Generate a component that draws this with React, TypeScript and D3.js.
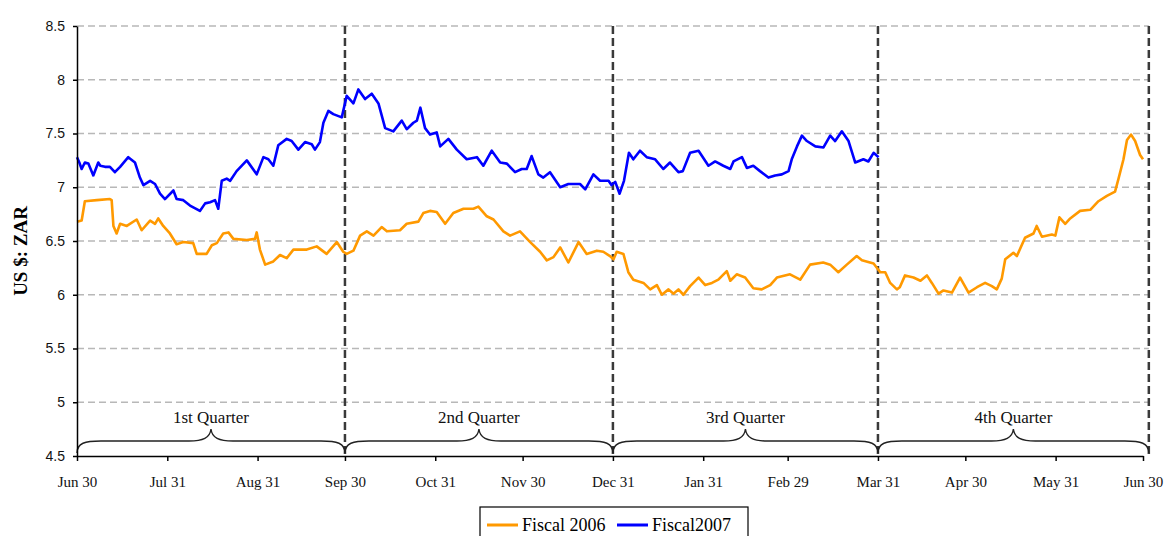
import React, { useEffect, useRef } from 'react';
import * as d3 from 'd3';

// days counted from Jun 30 (leap-year fiscal, so Feb 29 shows up)
const monthTickDays = [0, 31, 62, 92, 123, 153, 184, 215, 244, 275, 305, 336, 366];
const monthTickLabels = ['Jun 30', 'Jul 31', 'Aug 31', 'Sep 30', 'Oct 31', 'Nov 30', 'Dec 31', 'Jan 31', 'Feb 29', 'Mar 31', 'Apr 30', 'May 31', 'Jun 30'];
const yTicks = [4.5, 5, 5.5, 6, 6.5, 7, 7.5, 8, 8.5];
const quarterBounds = [0, 92, 184, 275, 368];
const quarterLabels = ['1st Quarter', '2nd Quarter', '3rd Quarter', '4th Quarter'];
const seriesNames = ['Fiscal 2006', 'Fiscal2007'];
const seriesColors = ['#ff9900', '#0000ff'];

// [day, US$:ZAR]
const fiscal2006: [number, number][] = [
  [0, 6.68], [1.6, 6.69], [2.7, 6.87], [6.8, 6.88], [11.3, 6.89], [11.9, 6.88], [12.5, 6.64], [13.6, 6.57],
  [14.8, 6.66], [17.1, 6.64], [20.5, 6.7], [22.2, 6.6], [25.1, 6.69], [26.8, 6.66], [27.9, 6.71], [29.6, 6.64],
  [31.9, 6.57], [34.2, 6.47], [36.5, 6.49], [39.9, 6.48], [41.1, 6.38], [44.5, 6.38], [46.3, 6.46], [48, 6.48],
  [50.2, 6.57], [52, 6.58], [53.7, 6.52], [58.3, 6.51], [61.1, 6.52], [61.7, 6.58], [62.8, 6.42], [64.6, 6.28],
  [67.4, 6.31], [69.7, 6.37], [72, 6.34], [74.3, 6.42], [78.9, 6.42], [82.3, 6.45], [85.7, 6.38], [89.2, 6.49],
  [91.4, 6.4], [92.6, 6.38], [94.9, 6.41], [97.2, 6.55], [99.5, 6.59], [101.8, 6.55], [104.6, 6.63], [106.4, 6.59],
  [110.9, 6.6], [113.2, 6.66], [117.2, 6.68], [118.9, 6.76], [121.2, 6.78], [123.5, 6.77], [126.4, 6.66], [129.2, 6.76],
  [132.7, 6.8], [136.1, 6.8], [137.8, 6.82], [140.7, 6.73], [143, 6.7], [146.4, 6.59], [148.7, 6.55], [152.1, 6.59],
  [155.6, 6.49], [159, 6.4], [161.3, 6.32], [163.6, 6.35], [165.9, 6.44], [168.7, 6.3], [172.2, 6.49], [175, 6.38],
  [178.5, 6.41], [180.7, 6.4], [183, 6.36], [184.2, 6.33], [185.3, 6.4], [187.6, 6.38], [189.3, 6.21], [191, 6.14],
  [194.5, 6.11], [196.8, 6.05], [199.1, 6.09], [200.8, 6.0], [203.1, 6.05], [204.8, 6.01], [206.5, 6.05], [208.2, 6.0],
  [210.5, 6.08], [213.4, 6.16], [215.7, 6.09], [218, 6.11], [220.2, 6.14], [223.1, 6.22], [224.3, 6.13], [226.5, 6.19],
  [229.4, 6.16], [232.2, 6.06], [235.1, 6.05], [238, 6.09], [240.3, 6.16], [244.8, 6.19], [248.3, 6.14], [251.7, 6.28],
  [256.2, 6.3], [258.6, 6.28], [261.4, 6.21], [264.3, 6.28], [267.7, 6.36], [269.5, 6.32], [273.5, 6.29], [275.8, 6.21],
  [277.5, 6.21], [279.2, 6.11], [281.5, 6.05], [282.5, 6.07], [284.3, 6.18], [287.2, 6.16], [289.6, 6.13], [291.8, 6.18],
  [293.5, 6.11], [295.8, 6.01], [297.5, 6.04], [300.4, 6.02], [303.2, 6.16], [306.1, 6.02], [309, 6.07], [311.8, 6.11],
  [314.1, 6.08], [315.8, 6.05], [317.5, 6.15], [318.7, 6.33], [321.5, 6.39], [322.7, 6.36], [325.5, 6.53], [328.4, 6.57],
  [329.5, 6.64], [331.3, 6.54], [334.7, 6.56], [335.9, 6.55], [337.3, 6.72], [339.3, 6.66], [341, 6.71], [344.4, 6.78],
  [347.9, 6.79], [350.7, 6.87], [353.6, 6.92], [356.4, 6.96], [357.6, 7.08], [359.3, 7.26], [360.5, 7.44], [361.9, 7.49],
  [363.3, 7.43], [365, 7.3], [366, 7.26],
];

const fiscal2007: [number, number][] = [
  [0, 7.28], [0.8, 7.23], [1.6, 7.17], [2.7, 7.23], [3.9, 7.22], [5.6, 7.11], [7.3, 7.23], [8, 7.2],
  [9.6, 7.19], [11.3, 7.19], [13, 7.14], [14.8, 7.19], [17.6, 7.28], [19.9, 7.23], [21.6, 7.09], [22.8, 7.02],
  [25.1, 7.06], [26.8, 7.03], [28.5, 6.94], [30.2, 6.89], [33.1, 6.97], [34.2, 6.89], [36.5, 6.88], [38.8, 6.83],
  [42.2, 6.78], [44, 6.85], [45.7, 6.86], [47.4, 6.88], [48.5, 6.8], [49.7, 7.06], [51.4, 7.08], [52.6, 7.06],
  [54.8, 7.15], [58.3, 7.25], [61.7, 7.12], [64, 7.28], [65.7, 7.26], [67.4, 7.2], [69.1, 7.39], [72, 7.45],
  [73.7, 7.43], [76, 7.35], [78.3, 7.42], [80.6, 7.4], [81.7, 7.35], [83.4, 7.42], [84.6, 7.6], [86.3, 7.71],
  [88, 7.68], [90.9, 7.65], [92.6, 7.85], [94.9, 7.78], [96.6, 7.91], [98.9, 7.82], [101.2, 7.87], [103.5, 7.78],
  [105.8, 7.55], [108.6, 7.52], [111.5, 7.62], [113.2, 7.54], [115.5, 7.6], [116.7, 7.62], [117.9, 7.74], [119.5, 7.55],
  [121.2, 7.49], [123.5, 7.51], [124.7, 7.38], [127.5, 7.45], [130.4, 7.35], [133.8, 7.26], [137.3, 7.28], [139.5, 7.2],
  [142.4, 7.34], [145.3, 7.23], [147.6, 7.22], [150.4, 7.14], [152.7, 7.17], [154.4, 7.17], [156.1, 7.29], [158.4, 7.12],
  [160.1, 7.09], [162.4, 7.14], [165.9, 7.0], [168.7, 7.03], [172.7, 7.03], [174.5, 6.98], [177.3, 7.12], [179.6, 7.06],
  [182.5, 7.06], [183.5, 7.02], [184.8, 7.05], [186.3, 6.94], [187.8, 7.06], [189.5, 7.32], [191, 7.26], [193.3, 7.34],
  [195.6, 7.28], [198.5, 7.26], [201.3, 7.17], [203.6, 7.23], [206.5, 7.14], [208, 7.15], [210.5, 7.32], [213.4, 7.34],
  [216.8, 7.2], [219.1, 7.24], [221.9, 7.2], [224.3, 7.17], [225.4, 7.24], [228.3, 7.28], [230, 7.18], [232.2, 7.2],
  [234.5, 7.15], [237.4, 7.09], [239.7, 7.11], [242, 7.12], [244.3, 7.15], [245.4, 7.26], [247.2, 7.38], [248.9, 7.48],
  [250.6, 7.43], [253.5, 7.38], [256.3, 7.37], [258.6, 7.48], [260.3, 7.43], [262.6, 7.52], [264.9, 7.43], [267.2, 7.23],
  [270, 7.26], [271.7, 7.24], [273.5, 7.32], [275.2, 7.28],
];

export default function App() {
  const svgRef = useRef<SVGSVGElement>(null);

  useEffect(() => {
    const width = 1165;
    const height = 536;
    const margin = { top: 26, right: 22, bottom: 80, left: 77 };

    const svg = d3.select(svgRef.current);
    svg.selectAll('*').remove();

    const x = d3.scaleLinear().domain([0, 366]).range([margin.left, width - margin.right]);
    const y = d3.scaleLinear().domain([4.5, 8.5]).range([height - margin.bottom, margin.top]);
    const serif = '"Liberation Serif", "Times New Roman", serif';
    const sans = '"Liberation Sans", Arial, sans-serif';
    const gridRight = x(quarterBounds[quarterBounds.length - 1]);

    // horizontal gridlines
    svg.append('g')
      .selectAll('line')
      .data(yTicks.slice(1))
      .enter()
      .append('line')
      .attr('x1', x(0))
      .attr('x2', gridRight)
      .attr('y1', d => y(d))
      .attr('y2', d => y(d))
      .attr('stroke', '#b8b8b8')
      .attr('stroke-width', 1.3)
      .attr('stroke-dasharray', '7,4');

    // quarter dividers
    svg.append('g')
      .selectAll('line')
      .data(quarterBounds.slice(1))
      .enter()
      .append('line')
      .attr('x1', d => x(d))
      .attr('x2', d => x(d))
      .attr('y1', y(8.5))
      .attr('y2', y(4.5))
      .attr('stroke', '#3a3a3a')
      .attr('stroke-width', 2.5)
      .attr('stroke-dasharray', '8,4');

    // quarter braces
    const braceBase = y(4.5) - 3;
    const braceLine = y(4.5) - 15;
    const bracePeak = y(4.5) - 27;
    const braces = svg.append('g');
    quarterLabels.forEach((label, i) => {
      const x0 = x(quarterBounds[i]);
      const x1 = x(quarterBounds[i + 1]);
      const mid = (x0 + x1) / 2;
      const p = d3.path();
      p.moveTo(x0, braceBase);
      p.bezierCurveTo(x0, braceLine + 2, x0 + 8, braceLine, x0 + 24, braceLine);
      p.lineTo(mid - 22, braceLine);
      p.bezierCurveTo(mid - 8, braceLine, mid - 1, braceLine - 3, mid, bracePeak);
      p.bezierCurveTo(mid + 1, braceLine - 3, mid + 8, braceLine, mid + 22, braceLine);
      p.lineTo(x1 - 24, braceLine);
      p.bezierCurveTo(x1 - 8, braceLine, x1, braceLine + 2, x1, braceBase);
      braces.append('path')
        .attr('d', p.toString())
        .attr('fill', 'none')
        .attr('stroke', '#222')
        .attr('stroke-width', 1.4);
      braces.append('text')
        .attr('x', mid)
        .attr('y', bracePeak - 6)
        .attr('text-anchor', 'middle')
        .style('font-family', serif)
        .style('font-size', '17px')
        .attr('fill', '#111')
        .text(label);
    });

    // series lines
    const line = d3.line<[number, number]>()
      .x(d => x(d[0]))
      .y(d => y(d[1]));

    [fiscal2006, fiscal2007].forEach((series, i) => {
      svg.append('path')
        .datum(series)
        .attr('d', line)
        .attr('fill', 'none')
        .attr('stroke', seriesColors[i])
        .attr('stroke-width', 2.6)
        .attr('stroke-linejoin', 'round');
    });

    // axes
    const yAxis = svg.append('g')
      .attr('transform', `translate(${x(0)},0)`)
      .call(d3.axisLeft(y).tickValues(yTicks).tickFormat(d3.format('')).tickSize(4).tickSizeOuter(0).tickPadding(8));
    yAxis.select('.domain').attr('stroke', '#000').attr('stroke-width', 1.5);
    yAxis.selectAll('.tick line').attr('stroke', '#000').attr('stroke-width', 1.5);
    yAxis.selectAll('text')
      .style('font-family', sans)
      .style('font-size', '14px')
      .attr('fill', '#111');

    const xAxis = svg.append('g')
      .attr('transform', `translate(0,${y(4.5)})`)
      .call(d3.axisBottom(x).tickValues(monthTickDays).tickFormat((d, i) => monthTickLabels[i]).tickSize(5).tickSizeOuter(0).tickPadding(15));
    xAxis.select('.domain').attr('stroke', '#000').attr('stroke-width', 1.5);
    xAxis.selectAll('.tick line').attr('stroke', '#000').attr('stroke-width', 1.5);
    xAxis.selectAll('text')
      .style('font-family', serif)
      .style('font-size', '15px')
      .attr('fill', '#111');

    // y axis title
    svg.append('text')
      .attr('transform', `translate(27, ${(y(4.5) + y(8.5)) / 2 + 10}) rotate(-90)`)
      .attr('text-anchor', 'middle')
      .style('font-family', serif)
      .style('font-size', '19px')
      .style('font-weight', 'bold')
      .attr('fill', '#000')
      .text('US $: ZAR');

    // legend
    const legend = svg.append('g').attr('transform', 'translate(480,507)');
    legend.append('rect')
      .attr('width', 268)
      .attr('height', 40)
      .attr('fill', '#fff')
      .attr('stroke', '#000')
      .attr('stroke-width', 1.2);
    const legendItemX = [7, 137];
    seriesNames.forEach((name, i) => {
      legend.append('line')
        .attr('x1', legendItemX[i])
        .attr('x2', legendItemX[i] + 31)
        .attr('y1', 18)
        .attr('y2', 18)
        .attr('stroke', seriesColors[i])
        .attr('stroke-width', 3);
      legend.append('text')
        .attr('x', legendItemX[i] + 35)
        .attr('y', 24)
        .style('font-family', serif)
        .style('font-size', '18px')
        .attr('fill', '#000')
        .text(name);
    });
  }, []);

  return (
    <svg
      ref={svgRef}
      width={1165}
      height={536}
      style={{ position: 'absolute', left: 0, top: 0, background: '#fff', display: 'block' }}
    />
  );
}
